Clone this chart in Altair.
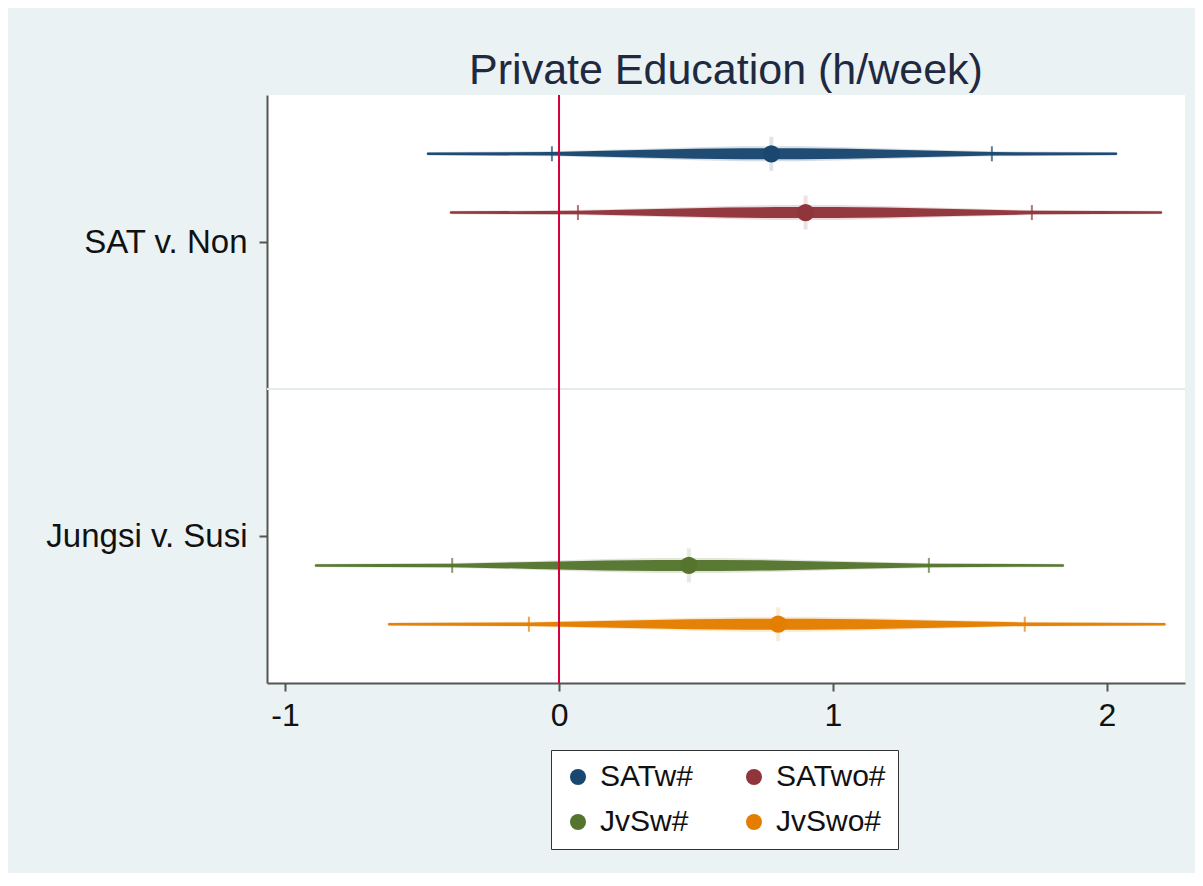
import altair as alt
import pandas as pd

# ---------------- data ----------------
series = ["SATw#", "SATwo#", "JvSw#", "JvSwo#"]
categories = ["SAT v. Non", "Jungsi v. Susi"]
series_category = ["SAT v. Non", "SAT v. Non", "Jungsi v. Susi", "Jungsi v. Susi"]
colors = ["#1a476f", "#90353b", "#55752f", "#e37e00"]

coef = [0.775, 0.900, 0.474, 0.800]
ci998_lo = [-0.478, -0.394, -0.887, -0.620]
ci998_hi = [2.033, 2.197, 1.839, 2.210]
ci95_lo = [-0.026, 0.069, -0.390, -0.110]
ci95_hi = [1.580, 1.726, 1.350, 1.700]
ci80_lo = [0.250, 0.360, -0.090, 0.205]
ci80_hi = [1.300, 1.440, 1.040, 1.385]
ci50_lo = [0.500, 0.615, 0.175, 0.485]
ci50_hi = [1.050, 1.185, 0.775, 1.105]
ci20_lo = [0.670, 0.790, 0.360, 0.680]
ci20_hi = [0.880, 1.010, 0.585, 0.910]
x_ticks = [-1, 0, 1, 2]
ref_x = 0

# ---------------- tables ----------------
pts = pd.DataFrame({
    "series": series,
    "cat": [categories.index(c) + 1 for c in series_category],
    "ser": list(range(len(series))),
    "coef": coef,
    "lo95": ci95_lo,
    "hi95": ci95_hi,
})

rows = []
for i, s in enumerate(series):
    cat = categories.index(series_category[i]) + 1
    prof = [
        (ci998_lo[i], 99.8), (ci95_lo[i], 95), (ci80_lo[i], 80), (ci50_lo[i], 50),
        (ci20_lo[i], 20), (coef[i], 0), (ci20_hi[i], 20), (ci50_hi[i], 50),
        (ci80_hi[i], 80), (ci95_hi[i], 95), (ci998_hi[i], 99.8),
    ]
    for x, lvl in prof:
        rows.append({"series": s, "cat": cat, "ser": i, "x": x,
                     "level": lvl, "hlevel": lvl})
trail_df = pd.DataFrame(rows)

ypos_expr = "datum.cat + (datum.ser - 1.5) * 0.2"

FONT = "Liberation Sans"

xscale = alt.Scale(domain=[-1.066, 2.285], nice=False, zero=False)
yscale = alt.Scale(domain=[0.5, 2.5], reverse=True, nice=False, zero=False)

label_expr = "[" + ",".join("'" + c + "'" for c in categories) + "][datum.value - 1]"

x_axis = alt.Axis(values=x_ticks, tickSize=8, tickWidth=2, tickColor="#555555",
                  domainColor="#555555", domainWidth=2, labelFontSize=32,
                  labelFont=FONT, labelColor="#111111", labelPadding=9,
                  labelExpr="'' + datum.value", grid=False, title=None)
y_axis = alt.Axis(values=[1, 2], tickSize=8, tickWidth=2, tickColor="#555555",
                  domainColor="#555555", domainWidth=2, labelFontSize=33,
                  labelFont=FONT, labelColor="#111111", labelPadding=12,
                  labelLimit=400, labelExpr=label_expr, grid=False, title=None)

color_scale = alt.Scale(domain=series, range=colors)

legend = alt.Legend(orient="none", legendX=284, legendY=655, columns=2,
                    direction="horizontal",
                    symbolType="circle", symbolSize=256, symbolStrokeWidth=0,
                    symbolOpacity=1,
                    labelFontSize=30, labelFont=FONT, labelColor="#111111",
                    labelOffset=7, padding=12, rowPadding=15, columnPadding=46,
                    fillColor="white", strokeColor="#333333")

color_enc = alt.Color("series:N", scale=color_scale, legend=legend, title=None,
                      sort=series)

# separator gridline between the two groups
grid = alt.Chart(pd.DataFrame({"g": [1.5]})).mark_rule(
    color="#e3ecee", strokeWidth=2
).encode(y=alt.Y("g:Q", scale=yscale, axis=y_axis))

halo = alt.Chart(trail_df).transform_calculate(ypos=ypos_expr).mark_trail(
    opacity=0.18
).encode(
    x=alt.X("x:Q", scale=xscale, axis=x_axis),
    y=alt.Y("ypos:Q", scale=yscale, axis=y_axis),
    size=alt.Size("hlevel:Q", legend=None,
                  scale=alt.Scale(domain=[0, 20, 50, 80, 95, 99.8],
                                  range=[15, 15, 13, 9, 5, 3.5])),
    color=color_enc,
    detail="series:N",
    order=alt.Order("x:Q"),
)

trail = alt.Chart(trail_df).transform_calculate(ypos=ypos_expr).mark_trail(
    opacity=0.97
).encode(
    x=alt.X("x:Q", scale=xscale, axis=x_axis),
    y=alt.Y("ypos:Q", scale=yscale, axis=y_axis),
    size=alt.Size("level:Q", legend=None,
                  scale=alt.Scale(domain=[0, 20, 50, 80, 95, 99.8],
                                  range=[11, 11, 10, 7, 3.5, 2.5])),
    color=color_enc,
    detail="series:N",
    order=alt.Order("x:Q"),
)

ticks = alt.Chart(pts).transform_calculate(ypos=ypos_expr).transform_fold(
    ["lo95", "hi95"], as_=["bound", "bx"]
).mark_tick(orient="vertical", size=15, thickness=2).encode(
    x=alt.X("bx:Q", scale=xscale, axis=x_axis),
    y=alt.Y("ypos:Q", scale=yscale, axis=y_axis),
    color=color_enc,
)

glow = alt.Chart(pts).transform_calculate(ypos=ypos_expr).mark_tick(
    orient="vertical", size=34, thickness=4, opacity=0.15
).encode(
    x=alt.X("coef:Q", scale=xscale, axis=x_axis),
    y=alt.Y("ypos:Q", scale=yscale, axis=y_axis),
    color=color_enc,
)

points = alt.Chart(pts).transform_calculate(ypos=ypos_expr).mark_circle(
    size=300, opacity=1
).encode(
    x=alt.X("coef:Q", scale=xscale, axis=x_axis),
    y=alt.Y("ypos:Q", scale=yscale, axis=y_axis),
    color=color_enc,
)

zero_line = alt.Chart(pd.DataFrame({"z": [ref_x]})).mark_rule(
    color="#d4003c", strokeWidth=2
).encode(x=alt.X("z:Q", scale=xscale, axis=x_axis))

chart = alt.layer(grid, halo, trail, ticks, glow, points, zero_line).resolve_scale(
    size="independent"
).properties(
    width=918,
    height=588,
    padding={"left": 259, "top": 87, "right": 10, "bottom": 190},
    autosize=alt.AutoSizeParams(type="none"),
    background="#eaf2f3",
    title=alt.TitleParams("Private Education (h/week)", fontSize=43, font=FONT,
                          fontWeight="normal", color="#1f2940", anchor="middle",
                          frame="group", offset=1),
).configure_view(fill="white", strokeWidth=0)

chart.save("out.html", embed_options={"renderer": "svg", "actions": False})
